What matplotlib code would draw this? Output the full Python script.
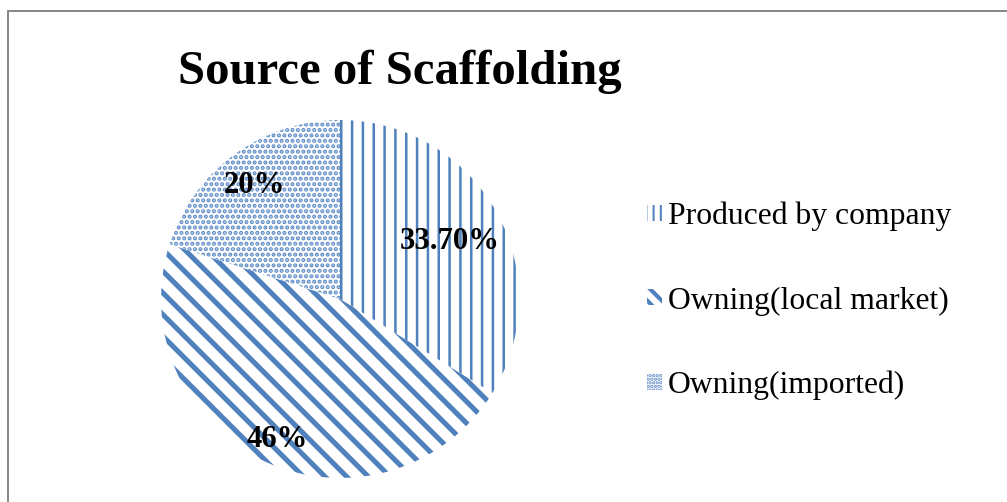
import matplotlib
matplotlib.use("Agg")
import matplotlib.pyplot as plt
from matplotlib.patches import Rectangle
import numpy as np

# ---- data ----
title = "Source of Scaffolding"
categories = ["Produced by company", "Owning(local market)", "Owning(imported)"]
values = [33.70, 46, 20]
value_labels = ["33.70%", "46%", "20%"]

# ---- style ----
hatches = ["||", "\\\\", "...."]
legend_hatches = ["|||", "\\\\\\", "......"]
hatch_colors = ["#4F81BD", "#4F81BD", "#5F8DC8"]
hatch_lws = [1.4, 2.8, 1.6]
label_dist = [0.70, 0.84, 0.81]
serif = ["Liberation Serif", "DejaVu Serif"]

DPI = 130
fig = plt.figure(figsize=(1007 / DPI, 502 / DPI), dpi=DPI)
fig.patch.set_facecolor("white")


def set_hlw(p, lw):
    if hasattr(p, "set_hatch_linewidth"):
        p.set_hatch_linewidth(lw)
    else:
        p._hatch_linewidth = lw


# outer frame (only top & left visible in the reference)
fig.patches.append(Rectangle((8 / 1007, -0.2), 1.3, 1.2 - 11 / 502,
                             transform=fig.transFigure, fill=False,
                             edgecolor="#888888", linewidth=1.1))

cx, cy, r = 340, 299, 179
ax = fig.add_axes([(cx - r) / 1007, 1 - (cy + r) / 502, 2 * r / 1007, 2 * r / 502])
wedges, _ = ax.pie(values, startangle=90, counterclock=False, radius=1,
                   wedgeprops=dict(linewidth=0, facecolor="white"))
for w, h, c, lw in zip(wedges, hatches, hatch_colors, hatch_lws):
    w.set_hatch(h)
    w.set_edgecolor(c)
    w.set_linewidth(0)
    w.set_clip_on(False)
    set_hlw(w, lw)
ax.set_xlim(-1, 1)
ax.set_ylim(-1, 1)
ax.set_aspect("auto")
ax.axis("off")

for w, lab, d in zip(wedges, value_labels, label_dist):
    ang = np.deg2rad((w.theta1 + w.theta2) / 2)
    ax.text(d * np.cos(ang), d * np.sin(ang), lab, ha="center",
            va="center_baseline",
            fontsize=17, fontweight="bold", family=serif, color="black")

fig.text(400 / 1007, 1 - 72 / 502, title, ha="center", va="center",
         fontsize=27, fontweight="bold", family=serif, color="black")

leg = fig.legend(wedges, categories, loc="center left",
                 bbox_to_anchor=(647 / 1007, 1 - 301 / 502),
                 frameon=False, borderpad=0, borderaxespad=0,
                 prop=dict(family=serif, size=17.5),
                 handlelength=0.47, handleheight=0.4, handletextpad=0.2,
                 labelspacing=1.75)
for hnd, h, lw in zip(leg.legend_handles, legend_hatches, hatch_lws):
    hnd.set_hatch(h)
    set_hlw(hnd, lw * 0.8)

fig.savefig("out.png", dpi=DPI)
